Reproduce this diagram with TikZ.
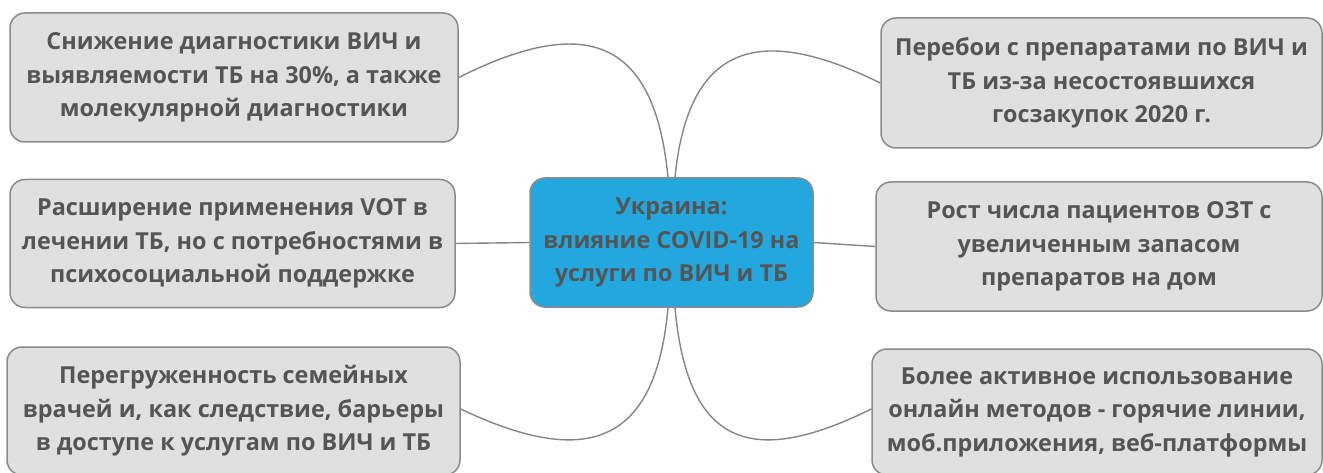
\documentclass[tikz,border=0pt]{standalone}
\usepackage{fontspec}
\setmainfont{Open Sans}
\usetikzlibrary{backgrounds}
\definecolor{boxfill}{HTML}{E0E0E0}
\definecolor{boxline}{HTML}{8A8A8A}
\definecolor{hubfill}{HTML}{22A8DF}
\definecolor{txt}{HTML}{555555}
\definecolor{link}{HTML}{858585}
\tikzset{
  topic/.style={draw=boxline, line width=1.5pt, fill=boxfill, rounded corners=15pt,
    align=center, text=txt, font=\fontsize{23.4}{33.5}\selectfont\bfseries,
    inner sep=0pt},
  hub/.style={topic, fill=hubfill},
  link/.style={draw=link, line width=1.4pt}
}
\begin{document}
\begin{tikzpicture}[x=1pt, y=-1pt]
\useasboundingbox (0,0) rectangle (1323,473);

% central topic
\node[hub, minimum width=283pt, minimum height=129pt] (c) at (671.5,242.5)
  {Украина:\\влияние COVID-19 на\\услуги по ВИЧ и ТБ};

% left column
\node[topic, minimum width=448pt, minimum height=129pt] (tl) at (234,77.5)
  {Снижение диагностики ВИЧ и\\выявляемости ТБ на 30\%, а также\\молекулярной диагностики};
\node[topic, minimum width=445pt, minimum height=128pt] (ml) at (232.5,243.5)
  {Расширение применения VOT в\\лечении ТБ, но с потребностями в\\психосоциальной поддержке};
\node[topic, minimum width=453pt, minimum height=128pt] (bl) at (233.5,411)
  {Перегруженность семейных\\врачей и, как следствие, барьеры\\в доступе к услугам по ВИЧ и ТБ};

% right column
\node[topic, minimum width=441pt, minimum height=130pt] (tr) at (1101.5,83)
  {Перебои с препаратами по ВИЧ и\\ТБ из-за несостоявшихся\\госзакупок 2020 г.};
\node[topic, minimum width=446pt, minimum height=129pt] (mr) at (1099,246.5)
  {Рост числа пациентов ОЗТ с\\увеличенным запасом\\препаратов на дом};
\node[topic, minimum width=450pt, minimum height=126pt] (br) at (1097,412)
  {Более активное использование\\онлайн методов - горячие линии,\\моб.приложения, веб-платформы};

% branches
\begin{scope}[on background layer]
\draw[link] ([xshift=-3.5pt]c.north) .. controls +(-13,-133) and +(133,-67) .. (tl.east);
\draw[link] ([xshift=3.5pt]c.north) .. controls +(13,-130) and +(-125,-62) .. (tr.west);
\draw[link] ([xshift=-3.5pt]c.south) .. controls +(-12,133) and +(130,62) .. ([yshift=2pt]bl.east);
\draw[link] ([xshift=3.5pt]c.south) .. controls +(12,133) and +(-125,62) .. ([yshift=3pt]br.west);
\draw[link] (ml.east) -- (c.west);
\draw[link] (c.east) -- (mr.west);
\end{scope}
\end{tikzpicture}
\end{document}
